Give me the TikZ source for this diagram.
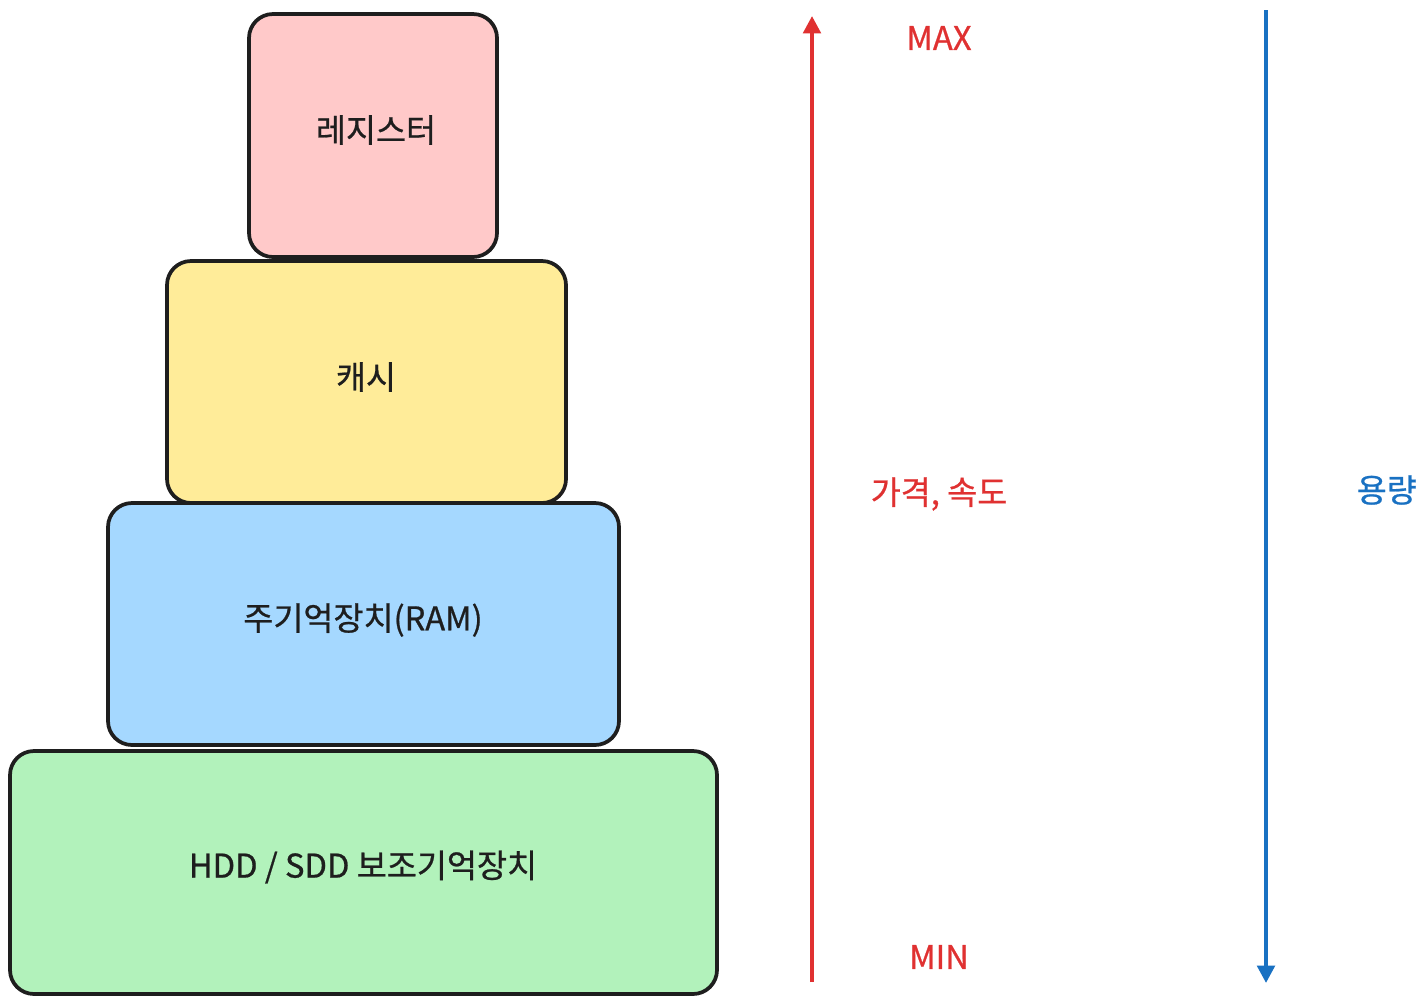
\documentclass[tikz,border=0pt]{standalone}
\usepackage{fontspec}
\setmainfont{Noto Sans CJK KR}[FakeBold=0.7]
\usetikzlibrary{arrows.meta}
\definecolor{strk}{HTML}{1E1E1E}
\definecolor{pinkf}{HTML}{FFC9C9}
\definecolor{yellf}{HTML}{FFEC99}
\definecolor{bluef}{HTML}{A5D8FF}
\definecolor{greenf}{HTML}{B2F2BB}
\definecolor{redc}{HTML}{E03131}
\definecolor{bluec}{HTML}{1971C2}
\tikzset{
  tier/.style={draw=strk, line width=2.8pt, rounded corners=18pt},
  tierlabel/.style={font=\fontsize{24.5}{28}\selectfont, text=strk},
  redlabel/.style={font=\fontsize{24.5}{28}\selectfont, text=redc},
  bluelabel/.style={font=\fontsize{24.5}{28}\selectfont, text=bluec},
  axis/.style={line width=3pt, -{Triangle[length=13pt,width=13pt]}}
}
\begin{document}
\begin{tikzpicture}[x=0.75pt,y=-0.75pt]
\clip (0,0) rectangle (1427,1004);
\fill[white] (0,0) rectangle (1427,1004);
% tiers
\draw[tier, fill=pinkf] (249,14) rectangle (497,257);
\node[tierlabel] (reg) at (376,130) {레지스터};
\draw[tier, fill=yellf] (167,261) rectangle (566,503);
\node[tierlabel] (cache) at (366,377) {캐시};
\draw[tier, fill=bluef] (108,503) rectangle (619,745);
\node[tierlabel] (ram) at (363,620) {주기억장치(RAM)};
\draw[tier, fill=greenf] (10,751) rectangle (717,994);
\node[tierlabel] (hdd) at (363,867) {HDD / SDD 보조기억장치};
% axes
\coordinate (rb) at (812,982);
\coordinate (rt) at (812,16);
\draw[axis, draw=redc, fill=redc] (rb) -- (rt);
\coordinate (bt) at (1266,10);
\coordinate (bb) at (1266,983);
\draw[axis, draw=bluec, fill=bluec] (bt) -- (bb);
% labels
\node[redlabel] (max) at (939,38) {MAX};
\node[redlabel] (min) at (939,957) {MIN};
\node[redlabel] (price) at (939,494) {가격, 속도};
\node[bluelabel, anchor=west] (cap) at (1352,490) {용량};
\end{tikzpicture}
\end{document}
